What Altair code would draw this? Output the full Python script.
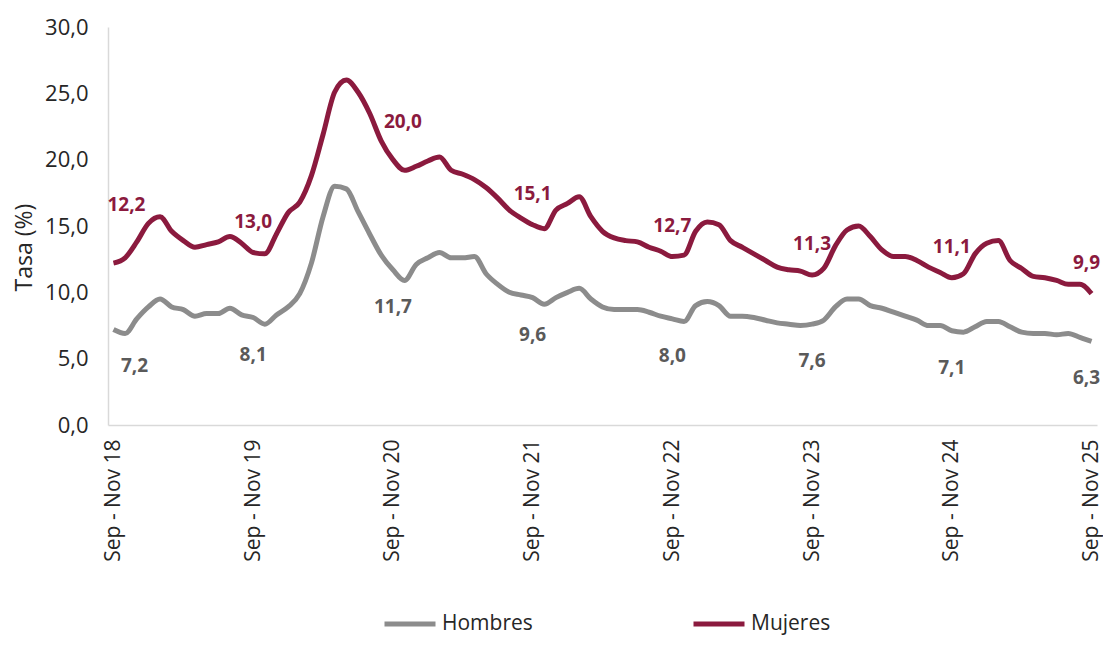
import altair as alt
import pandas as pd

meses = ["Ene", "Feb", "Mar", "Abr", "May", "Jun", "Jul", "Ago", "Sep", "Oct", "Nov", "Dic"]
n_periodos = 85
periodos = []
for i in range(n_periodos):
    s = 8 + i
    periodos.append(f"{meses[s % 12]} - {meses[(s + 2) % 12]} {(18 + (s + 2) // 12) % 100:02d}")

hombres = [7.2, 6.9, 8.0, 8.9, 9.5, 8.9, 8.7, 8.2, 8.4, 8.4, 8.8, 8.3,
           8.1, 7.6, 8.3, 8.9, 9.9, 12.2, 15.7, 18.0, 17.8, 16.1, 14.4, 12.8,
           11.7, 10.9, 12.1, 12.6, 13.0, 12.6, 12.6, 12.7, 11.4, 10.6, 10.0, 9.8,
           9.6, 9.1, 9.6, 10.0, 10.3, 9.5, 8.9, 8.7, 8.7, 8.7, 8.5, 8.2,
           8.0, 7.8, 9.0, 9.3, 9.0, 8.2, 8.2, 8.1, 7.9, 7.7, 7.6, 7.5,
           7.6, 7.9, 8.9, 9.5, 9.5, 9.0, 8.8, 8.5, 8.2, 7.9, 7.5, 7.5,
           7.1, 7.0, 7.4, 7.8, 7.8, 7.4, 7.0, 6.9, 6.9, 6.8, 6.9, 6.6,
           6.3]

mujeres = [12.2, 12.6, 13.8, 15.2, 15.7, 14.6, 13.9, 13.4, 13.6, 13.8, 14.2, 13.7,
           13.0, 12.9, 14.4, 16.0, 16.8, 18.8, 21.9, 25.1, 26.0, 25.1, 23.5, 21.4,
           20.0, 19.2, 19.5, 19.9, 20.2, 19.2, 18.9, 18.5, 17.9, 17.1, 16.2, 15.6,
           15.1, 14.8, 16.2, 16.7, 17.2, 15.7, 14.6, 14.1, 13.9, 13.8, 13.4, 13.1,
           12.7, 12.8, 14.6, 15.3, 15.1, 13.9, 13.4, 12.9, 12.4, 11.9, 11.7, 11.6,
           11.3, 11.8, 13.5, 14.7, 15.0, 14.2, 13.2, 12.7, 12.7, 12.4, 11.9, 11.5,
           11.1, 11.4, 12.9, 13.7, 13.9, 12.4, 11.8, 11.2, 11.1, 10.9, 10.6, 10.6,
           9.9]

series = ["Hombres", "Mujeres"]
colores = ["#8c8c8c", "#8b1a3e"]
y_ticks = [0, 5, 10, 15, 20, 25, 30]
tick_idx = list(range(0, n_periodos, 12))
tick_periodos = [periodos[i] for i in tick_idx]

df = pd.DataFrame({
    "periodo": periodos * 2,
    "idx": list(range(n_periodos)) * 2,
    "serie": ["Hombres"] * n_periodos + ["Mujeres"] * n_periodos,
    "valor": hombres + mujeres,
})
df["etiqueta"] = df["valor"].map(lambda v: f"{v:.1f}".replace(".", ","))

FONT = "Open Sans"

x_enc = alt.X(
    "periodo:O", sort=periodos,
    scale=alt.Scale(type="point", padding=0.47),
    axis=alt.Axis(values=tick_periodos, labelAngle=-90, title=None, ticks=False, tickSize=0,
                  labelPadding=14, labelFontSize=21, labelFont=FONT, labelColor="#262626",
                  domainColor="#d9d9d9", domainWidth=1.5, grid=False),
)
y_enc = alt.Y(
    "valor:Q",
    scale=alt.Scale(domain=[0, 30], nice=False, zero=True),
    axis=alt.Axis(values=y_ticks, labelExpr="replace(format(datum.value, '.1f'), '.', ',')",
                  title="Tasa (%)", titleFont=FONT, titleFontSize=23, titleFontWeight="normal",
                  titleColor="#262626", titleX=-84, titleY=220, titleBaseline="middle",
                  grid=False, ticks=False, tickSize=0, labelPadding=20, labelFontSize=22,
                  labelFont=FONT, labelColor="#262626", domainColor="#d9d9d9", domainWidth=1.5),
)
color_enc = alt.Color(
    "serie:N",
    scale=alt.Scale(domain=series, range=colores),
    legend=alt.Legend(orient="none", legendX=274, legendY=569, direction="horizontal", title=None,
                      symbolType="stroke", symbolStrokeWidth=5, symbolSize=2601,
                      labelFontSize=21, labelFont=FONT, labelColor="#262626",
                      columnPadding=150, labelOffset=4, padding=0),
)

lines = alt.Chart(df).mark_line(strokeWidth=5, interpolate="monotone").encode(
    x=x_enc, y=y_enc, color=color_enc
)


def etiquetas(serie, idxs, dx, dy, color):
    return alt.Chart(df).transform_filter(
        alt.FieldEqualPredicate(field="serie", equal=serie)
    ).transform_filter(
        alt.FieldOneOfPredicate(field="idx", oneOf=idxs)
    ).mark_text(font=FONT, fontWeight="bold", fontSize=19, color=color, dx=dx, dy=dy).encode(
        x=x_enc, y=y_enc, text="etiqueta:N"
    )


capas = [
    lines,
    etiquetas("Mujeres", [0], 13, -58, colores[1]),
    etiquetas("Mujeres", [24], 10, -38, colores[1]),
    etiquetas("Mujeres", [i for i in tick_idx if i not in (0, 24, 84)], 0, -31, colores[1]),
    etiquetas("Mujeres", [84], -5, -31, colores[1]),
    etiquetas("Hombres", [0], 21, 37, "#5a5a5a"),
    etiquetas("Hombres", [i for i in tick_idx if i not in (0, 84)], 0, 37, "#5a5a5a"),
    etiquetas("Hombres", [84], -5, 37, "#5a5a5a"),
]

chart = alt.layer(*capas).properties(
    width=989, height=398,
    padding={"left": 100, "top": 19, "right": 6, "bottom": 211},
    autosize=alt.AutoSizeParams(type="none"),
).configure_view(stroke=None)

chart.save("out.html", embed_options={"renderer": "svg", "actions": False})
